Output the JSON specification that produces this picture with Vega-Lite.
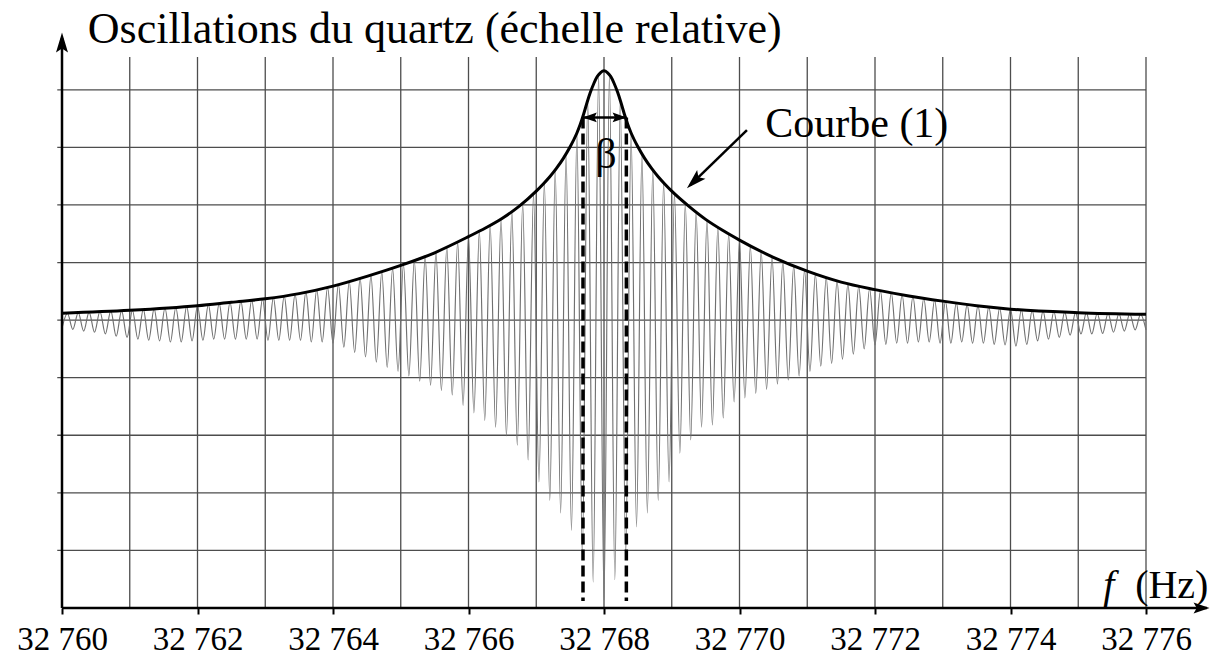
{
  "$schema": "https://vega.github.io/schema/vega-lite/v6.json",
  "width": 1084,
  "height": 551,
  "autosize": {"type": "none"},
  "padding": {"left": 62, "top": 57, "right": 70, "bottom": 47},
  "background": "white",
  "config": {
    "view": {"stroke": null},
    "font": "Liberation Serif",
    "axisX": {
      "domain": false,
      "grid": false,
      "ticks": true,
      "tickColor": "black",
      "tickWidth": 2,
      "tickSize": 6,
      "labelFont": "Liberation Serif",
      "labelFontSize": 33,
      "labelColor": "black",
      "labelBaseline": "alphabetic",
      "labelPadding": 35,
      "labelFlush": false,
      "labelOverlap": false
    }
  },
  "datasets": {
    "osc": [
      {"f":32760.00,"v":-0.14},{"f":32760.08,"v":0.12},
      {"f":32760.16,"v":-0.16},{"f":32760.24,"v":0.13},
      {"f":32760.32,"v":-0.19},{"f":32760.40,"v":0.14},
      {"f":32760.48,"v":-0.21},{"f":32760.56,"v":0.15},
      {"f":32760.64,"v":-0.24},{"f":32760.72,"v":0.16},
      {"f":32760.80,"v":-0.28},{"f":32760.88,"v":0.16},
      {"f":32760.96,"v":-0.30},{"f":32761.04,"v":0.17},
      {"f":32761.12,"v":-0.33},{"f":32761.20,"v":0.19},
      {"f":32761.28,"v":-0.35},{"f":32761.36,"v":0.20},
      {"f":32761.44,"v":-0.36},{"f":32761.52,"v":0.21},
      {"f":32761.60,"v":-0.38},{"f":32761.68,"v":0.22},
      {"f":32761.76,"v":-0.38},{"f":32761.84,"v":0.24},
      {"f":32761.92,"v":-0.36},{"f":32762.00,"v":0.25},
      {"f":32762.08,"v":-0.35},{"f":32762.16,"v":0.27},
      {"f":32762.24,"v":-0.33},{"f":32762.32,"v":0.29},
      {"f":32762.40,"v":-0.33},{"f":32762.48,"v":0.31},
      {"f":32762.56,"v":-0.33},{"f":32762.64,"v":0.33},
      {"f":32762.72,"v":-0.33},{"f":32762.80,"v":0.35},
      {"f":32762.88,"v":-0.33},{"f":32762.96,"v":0.37},
      {"f":32763.04,"v":-0.35},{"f":32763.12,"v":0.39},
      {"f":32763.20,"v":-0.35},{"f":32763.28,"v":0.42},
      {"f":32763.36,"v":-0.35},{"f":32763.44,"v":0.45},
      {"f":32763.52,"v":-0.35},{"f":32763.60,"v":0.49},
      {"f":32763.68,"v":-0.38},{"f":32763.76,"v":0.53},
      {"f":32763.84,"v":-0.38},{"f":32763.92,"v":0.57},
      {"f":32764.00,"v":-0.40},{"f":32764.08,"v":0.62},
      {"f":32764.16,"v":-0.47},{"f":32764.24,"v":0.67},
      {"f":32764.32,"v":-0.56},{"f":32764.40,"v":0.73},
      {"f":32764.48,"v":-0.64},{"f":32764.56,"v":0.78},
      {"f":32764.64,"v":-0.73},{"f":32764.72,"v":0.84},
      {"f":32764.80,"v":-0.82},{"f":32764.88,"v":0.90},
      {"f":32764.96,"v":-0.89},{"f":32765.04,"v":0.97},
      {"f":32765.12,"v":-0.97},{"f":32765.20,"v":1.04},
      {"f":32765.28,"v":-1.06},{"f":32765.36,"v":1.11},
      {"f":32765.44,"v":-1.13},{"f":32765.52,"v":1.18},
      {"f":32765.60,"v":-1.22},{"f":32765.68,"v":1.27},
      {"f":32765.76,"v":-1.30},{"f":32765.84,"v":1.36},
      {"f":32765.92,"v":-1.48},{"f":32766.00,"v":1.45},
      {"f":32766.08,"v":-1.61},{"f":32766.16,"v":1.55},
      {"f":32766.24,"v":-1.74},{"f":32766.32,"v":1.65},
      {"f":32766.40,"v":-1.86},{"f":32766.48,"v":1.76},
      {"f":32766.56,"v":-2.01},{"f":32766.64,"v":1.89},
      {"f":32766.72,"v":-2.17},{"f":32766.80,"v":2.03},
      {"f":32766.88,"v":-2.43},{"f":32766.96,"v":2.20},
      {"f":32767.04,"v":-2.81},{"f":32767.12,"v":2.39},
      {"f":32767.20,"v":-3.13},{"f":32767.28,"v":2.61},
      {"f":32767.36,"v":-3.35},{"f":32767.44,"v":2.89},
      {"f":32767.52,"v":-3.65},{"f":32767.60,"v":3.25},
      {"f":32767.68,"v":-4.08},{"f":32767.76,"v":3.82},
      {"f":32767.84,"v":-4.55},{"f":32767.92,"v":4.26},
      {"f":32768.00,"v":-4.86},{"f":32768.08,"v":4.26},
      {"f":32768.16,"v":-4.51},{"f":32768.24,"v":3.82},
      {"f":32768.32,"v":-4.08},{"f":32768.40,"v":3.25},
      {"f":32768.48,"v":-3.59},{"f":32768.56,"v":2.89},
      {"f":32768.64,"v":-3.35},{"f":32768.72,"v":2.61},
      {"f":32768.80,"v":-3.13},{"f":32768.88,"v":2.39},
      {"f":32768.96,"v":-2.81},{"f":32769.04,"v":2.20},
      {"f":32769.12,"v":-2.31},{"f":32769.20,"v":2.03},
      {"f":32769.28,"v":-2.08},{"f":32769.36,"v":1.88},
      {"f":32769.44,"v":-1.86},{"f":32769.52,"v":1.74},
      {"f":32769.60,"v":-1.82},{"f":32769.68,"v":1.61},
      {"f":32769.76,"v":-1.70},{"f":32769.84,"v":1.50},
      {"f":32769.92,"v":-1.42},{"f":32770.00,"v":1.39},
      {"f":32770.08,"v":-1.35},{"f":32770.16,"v":1.29},
      {"f":32770.24,"v":-1.27},{"f":32770.32,"v":1.20},
      {"f":32770.40,"v":-1.20},{"f":32770.48,"v":1.10},
      {"f":32770.56,"v":-1.11},{"f":32770.64,"v":1.02},
      {"f":32770.72,"v":-1.04},{"f":32770.80,"v":0.95},
      {"f":32770.88,"v":-0.97},{"f":32770.96,"v":0.87},
      {"f":32771.04,"v":-0.89},{"f":32771.12,"v":0.80},
      {"f":32771.20,"v":-0.80},{"f":32771.28,"v":0.74},
      {"f":32771.36,"v":-0.75},{"f":32771.44,"v":0.68},
      {"f":32771.52,"v":-0.68},{"f":32771.60,"v":0.63},
      {"f":32771.68,"v":-0.59},{"f":32771.76,"v":0.59},
      {"f":32771.84,"v":-0.50},{"f":32771.92,"v":0.55},
      {"f":32772.00,"v":-0.43},{"f":32772.08,"v":0.51},
      {"f":32772.16,"v":-0.42},{"f":32772.24,"v":0.48},
      {"f":32772.32,"v":-0.40},{"f":32772.40,"v":0.44},
      {"f":32772.48,"v":-0.40},{"f":32772.56,"v":0.41},
      {"f":32772.64,"v":-0.38},{"f":32772.72,"v":0.38},
      {"f":32772.80,"v":-0.38},{"f":32772.88,"v":0.35},
      {"f":32772.96,"v":-0.40},{"f":32773.04,"v":0.32},
      {"f":32773.12,"v":-0.40},{"f":32773.20,"v":0.30},
      {"f":32773.28,"v":-0.38},{"f":32773.36,"v":0.27},
      {"f":32773.44,"v":-0.40},{"f":32773.52,"v":0.25},
      {"f":32773.60,"v":-0.40},{"f":32773.68,"v":0.23},
      {"f":32773.76,"v":-0.42},{"f":32773.84,"v":0.21},
      {"f":32773.92,"v":-0.43},{"f":32774.00,"v":0.19},
      {"f":32774.08,"v":-0.45},{"f":32774.16,"v":0.18},
      {"f":32774.24,"v":-0.42},{"f":32774.32,"v":0.17},
      {"f":32774.40,"v":-0.36},{"f":32774.48,"v":0.16},
      {"f":32774.56,"v":-0.33},{"f":32774.64,"v":0.15},
      {"f":32774.72,"v":-0.30},{"f":32774.80,"v":0.14},
      {"f":32774.88,"v":-0.26},{"f":32774.96,"v":0.13},
      {"f":32775.04,"v":-0.24},{"f":32775.12,"v":0.13},
      {"f":32775.20,"v":-0.24},{"f":32775.28,"v":0.12},
      {"f":32775.36,"v":-0.23},{"f":32775.44,"v":0.12},
      {"f":32775.52,"v":-0.21},{"f":32775.60,"v":0.11},
      {"f":32775.68,"v":-0.19},{"f":32775.76,"v":0.11},
      {"f":32775.84,"v":-0.17},{"f":32775.92,"v":0.10},
      {"f":32776.00,"v":-0.17}
    ],
    "courbe1": [
      {"f":32760.00,"v":0.12},{"f":32761.00,"v":0.17},{"f":32762.00,"v":0.25},
      {"f":32762.50,"v":0.31},{"f":32763.00,"v":0.37},{"f":32763.50,"v":0.46},
      {"f":32764.00,"v":0.59},{"f":32764.50,"v":0.76},{"f":32765.00,"v":0.95},
      {"f":32765.50,"v":1.17},{"f":32766.00,"v":1.45},{"f":32766.25,"v":1.60},
      {"f":32766.50,"v":1.77},{"f":32766.75,"v":1.98},{"f":32767.00,"v":2.24},
      {"f":32767.10,"v":2.36},{"f":32767.20,"v":2.49},{"f":32767.30,"v":2.64},
      {"f":32767.40,"v":2.81},{"f":32767.50,"v":3.01},{"f":32767.60,"v":3.25},
      {"f":32767.65,"v":3.40},{"f":32767.70,"v":3.58},{"f":32767.75,"v":3.78},
      {"f":32767.80,"v":3.96},{"f":32767.85,"v":4.11},{"f":32767.90,"v":4.23},
      {"f":32767.95,"v":4.30},{"f":32768.00,"v":4.33},{"f":32768.05,"v":4.30},
      {"f":32768.10,"v":4.23},{"f":32768.15,"v":4.11},{"f":32768.20,"v":3.96},
      {"f":32768.25,"v":3.78},{"f":32768.30,"v":3.58},{"f":32768.35,"v":3.40},
      {"f":32768.40,"v":3.25},{"f":32768.50,"v":3.01},{"f":32768.60,"v":2.81},
      {"f":32768.70,"v":2.64},{"f":32768.80,"v":2.49},{"f":32768.90,"v":2.36},
      {"f":32769.00,"v":2.24},{"f":32769.25,"v":1.98},{"f":32769.50,"v":1.75},
      {"f":32769.75,"v":1.56},{"f":32770.00,"v":1.39},{"f":32770.50,"v":1.09},
      {"f":32771.00,"v":0.85},{"f":32771.50,"v":0.66},{"f":32772.00,"v":0.53},
      {"f":32772.50,"v":0.42},{"f":32773.00,"v":0.33},{"f":32773.50,"v":0.25},
      {"f":32774.00,"v":0.19},{"f":32775.00,"v":0.13},{"f":32776.00,"v":0.10}
    ],
    "vgrid": [
      {"f":32761},{"f":32762},{"f":32763},{"f":32764},{"f":32765},{"f":32766},
      {"f":32767},{"f":32768},{"f":32769},{"f":32770},{"f":32771},{"f":32772},
      {"f":32773},{"f":32774},{"f":32775},{"f":32776}
    ],
    "hgrid": [
      {"v":-4},{"v":-3},{"v":-2},{"v":-1},{"v":0},{"v":1},{"v":2},{"v":3},{"v":4}
    ],
    "beta": [{"f":32767.69},{"f":32768.33}]
  },
  "layer": [
    {
      "data": {"name": "vgrid"},
      "mark": {"type": "rule", "color": "#4d4d4d", "strokeWidth": 1.3},
      "encoding": {
        "x": {"field": "f", "type": "quantitative", "scale": {"domain": [32760, 32776], "nice": false, "zero": false}},
        "y": {"datum": -5, "type": "quantitative", "scale": {"domain": [-5, 4.57], "nice": false, "zero": false}, "axis": null},
        "y2": {"datum": 4.57}
      }
    },
    {
      "data": {"name": "hgrid"},
      "mark": {"type": "rule", "color": "#4d4d4d", "strokeWidth": 1.3},
      "encoding": {
        "y": {"field": "v", "type": "quantitative", "axis": null},
        "x": {"datum": 32759.93, "type": "quantitative"},
        "x2": {"datum": 32776}
      }
    },
    {
      "data": {"name": "osc"},
      "mark": {"type": "line", "color": "#707070", "strokeWidth": 1.15, "interpolate": "monotone"},
      "encoding": {
        "x": {
          "field": "f",
          "type": "quantitative",
          "axis": {
            "values": [32760, 32762, 32764, 32766, 32768, 32770, 32772, 32774, 32776],
            "format": ",d",
            "labelExpr": "replace(datum.label, ',', ' ')",
            "title": null
          }
        },
        "y": {"field": "v", "type": "quantitative", "axis": null}
      }
    },
    {
      "data": {"name": "courbe1"},
      "mark": {"type": "line", "color": "black", "strokeWidth": 3, "interpolate": "monotone"},
      "encoding": {
        "x": {"field": "f", "type": "quantitative"},
        "y": {"field": "v", "type": "quantitative", "axis": null}
      }
    },
    {
      "data": {"name": "beta"},
      "mark": {"type": "rule", "color": "black", "strokeWidth": 3.5, "strokeDash": [11, 5]},
      "encoding": {
        "x": {"field": "f", "type": "quantitative"},
        "y": {"datum": 3.52, "type": "quantitative", "axis": null},
        "y2": {"datum": -4.88}
      }
    },
    {
      "data": {"values": [{}]},
      "mark": {"type": "rule", "color": "black", "strokeWidth": 2.5},
      "encoding": {
        "x": {"datum": 32767.69, "type": "quantitative"},
        "x2": {"datum": 32768.33},
        "y": {"datum": 3.52, "type": "quantitative", "axis": null}
      }
    },
    {
      "data": {"values": [{}]},
      "mark": {"type": "point", "shape": "M0,-1L0.7,1L0,0.65L-0.7,1Z", "filled": true, "color": "black", "opacity": 1, "size": 196, "angle": 270},
      "encoding": {
        "x": {"datum": 32767.79, "type": "quantitative"},
        "y": {"datum": 3.52, "type": "quantitative", "axis": null}
      }
    },
    {
      "data": {"values": [{}]},
      "mark": {"type": "point", "shape": "M0,-1L0.7,1L0,0.65L-0.7,1Z", "filled": true, "color": "black", "opacity": 1, "size": 196, "angle": 90},
      "encoding": {
        "x": {"datum": 32768.23, "type": "quantitative"},
        "y": {"datum": 3.52, "type": "quantitative", "axis": null}
      }
    },
    {
      "data": {"values": [{}]},
      "mark": {"type": "rule", "color": "black", "strokeWidth": 2.5},
      "encoding": {
        "x": {"datum": 32760, "type": "quantitative"},
        "x2": {"datum": 32776.9},
        "y": {"datum": -5, "type": "quantitative", "axis": null}
      }
    },
    {
      "data": {"values": [{}]},
      "mark": {"type": "rule", "color": "black", "strokeWidth": 2.5},
      "encoding": {
        "x": {"datum": 32760, "type": "quantitative"},
        "y": {"datum": -5, "type": "quantitative", "axis": null},
        "y2": {"datum": 4.9}
      }
    },
    {
      "data": {"values": [{}]},
      "mark": {"type": "point", "shape": "M0,-1L0.6,1L0,0.6L-0.6,1Z", "filled": true, "color": "black", "opacity": 1, "size": 400},
      "encoding": {
        "x": {"datum": 32760, "type": "quantitative"},
        "y": {"datum": 4.82, "type": "quantitative", "axis": null}
      }
    },
    {
      "data": {"values": [{}]},
      "mark": {"type": "point", "shape": "M0,-1L0.7,1L0,0.6L-0.7,1Z", "filled": true, "color": "black", "opacity": 1, "size": 256, "angle": 90},
      "encoding": {
        "x": {"datum": 32776.82, "type": "quantitative"},
        "y": {"datum": -5, "type": "quantitative", "axis": null}
      }
    },
    {
      "data": {"values": [{}]},
      "mark": {"type": "rule", "color": "black", "strokeWidth": 2.5},
      "encoding": {
        "x": {"datum": 32770.11, "type": "quantitative"},
        "x2": {"datum": 32769.27},
        "y": {"datum": 3.30, "type": "quantitative", "axis": null},
        "y2": {"datum": 2.34}
      }
    },
    {
      "data": {"values": [{}]},
      "mark": {"type": "point", "shape": "M0,-1L0.6,1L0,0.6L-0.6,1Z", "filled": true, "color": "black", "opacity": 1, "size": 400, "angle": 226},
      "encoding": {
        "x": {"datum": 32769.33, "type": "quantitative"},
        "y": {"datum": 2.41, "type": "quantitative", "axis": null}
      }
    },
    {
      "data": {"values": [{"f": 32760.38, "v": 4.81, "label": "Oscillations du quartz (échelle relative)"}]},
      "mark": {"type": "text", "align": "left", "baseline": "alphabetic", "font": "Liberation Serif", "fontSize": 44, "color": "black"},
      "encoding": {
        "x": {"field": "f", "type": "quantitative"},
        "y": {"field": "v", "type": "quantitative", "axis": null},
        "text": {"field": "label"}
      }
    },
    {
      "data": {"values": [{"f": 32770.38, "v": 3.18, "label": "Courbe (1)"}, {"f": 32767.87, "v": 2.64, "label": "β"}]},
      "mark": {"type": "text", "align": "left", "baseline": "alphabetic", "font": "Liberation Serif", "fontSize": 42, "color": "black"},
      "encoding": {
        "x": {"field": "f", "type": "quantitative"},
        "y": {"field": "v", "type": "quantitative", "axis": null},
        "text": {"field": "label"}
      }
    },
    {
      "data": {"values": [{"f": 32775.37, "v": -4.83, "label": "f"}]},
      "mark": {"type": "text", "align": "left", "baseline": "alphabetic", "font": "Liberation Serif", "fontStyle": "italic", "fontSize": 40, "color": "black"},
      "encoding": {
        "x": {"field": "f", "type": "quantitative"},
        "y": {"field": "v", "type": "quantitative", "axis": null},
        "text": {"field": "label"}
      }
    },
    {
      "data": {"values": [{"f": 32775.84, "v": -4.83, "label": "(Hz)"}]},
      "mark": {"type": "text", "align": "left", "baseline": "alphabetic", "font": "Liberation Serif", "fontSize": 40, "color": "black"},
      "encoding": {
        "x": {"field": "f", "type": "quantitative"},
        "y": {"field": "v", "type": "quantitative", "axis": null},
        "text": {"field": "label"}
      }
    }
  ]
}
